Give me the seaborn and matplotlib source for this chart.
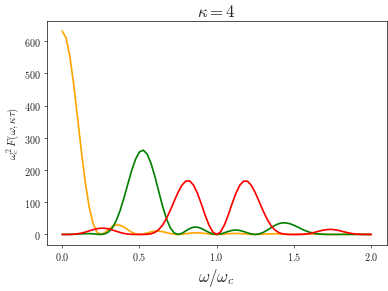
import numpy as np
import pandas as pd
import matplotlib
matplotlib.use("Agg")
import matplotlib.pyplot as plt
import seaborn as sns

# omega / omega_c grid, step 0.025
omega = np.linspace(0.0, 2.0, 81)

# values (omega_c^2 F)
free = [631.7, 611.1, 552.8, 465.4, 361.8, 256.0, 160.8, 85.5, 34.5, 7.5,
        0.0, 5.1, 15.4, 24.8, 29.5, 28.4, 22.6, 14.5, 6.8, 1.7,
        0.0, 1.4, 4.6, 7.9, 10.1, 10.2, 8.6, 5.7, 2.8, 0.7,
        0.0, 0.6, 2.2, 3.8, 5.0, 5.2, 4.5, 3.1, 1.5, 0.4,
        0.0, 0.4, 1.3, 2.3, 3.0, 3.2, 2.7, 1.9, 1.0, 0.3,
        0.0, 0.2, 0.8, 1.5, 2.0, 2.1, 1.8, 1.3, 0.7, 0.2,
        0.0, 0.2, 0.6, 1.1, 1.4, 1.5, 1.3, 0.9, 0.5, 0.1,
        0.0, 0.1, 0.4, 0.8, 1.1, 1.1, 1.0, 0.7, 0.4, 0.1,
        0.0]

cpmg = [0.0, 0.0, 0.1, 0.4, 1.0, 1.7, 2.4, 2.6, 1.9, 0.7,
        0.0, 1.5, 7.6, 20.7, 42.7, 74.0, 113.1, 156.3, 198.5, 233.6,
        256.0, 261.8, 249.7, 221.1, 180.3, 133.7, 87.8, 48.8, 20.6, 4.7,
        0.0, 3.4, 10.8, 18.2, 22.6, 22.7, 18.8, 12.6, 6.2, 1.6,
        0.0, 1.5, 5.1, 9.3, 12.6, 13.7, 12.3, 9.0, 4.8, 1.4,
        0.0, 1.5, 6.0, 12.7, 20.4, 27.6, 33.1, 36.0, 35.9, 33.2,
        28.4, 22.7, 16.7, 11.4, 7.1, 3.9, 1.9, 0.8, 0.2, 0.0,
        0.0, 0.0, 0.0, 0.0, 0.0, 0.0, 0.0, 0.0, 0.0, 0.0,
        0.0]

flip = [0.0, 0.0, 0.1, 0.7, 2.0, 4.2, 7.3, 11.1, 14.8, 17.8,
        19.3, 19.2, 17.2, 13.9, 10.0, 6.2, 3.1, 1.2, 0.3, 0.0,
        0.0, 0.0, 0.4, 2.0, 6.3, 15.0, 29.2, 49.5, 75.0, 103.2,
        130.6, 152.8, 165.7, 166.2, 153.3, 128.6, 95.8, 60.5, 29.2, 7.7,
        0.0, 7.7, 29.2, 60.5, 95.7, 128.4, 153.1, 165.7, 165.0, 151.9,
        129.6, 102.1, 74.0, 48.7, 28.6, 14.6, 6.1, 1.9, 0.4, 0.0,
        0.0, 0.0, 0.3, 1.1, 2.8, 5.4, 8.6, 11.8, 14.3, 15.5,
        15.3, 13.7, 11.1, 8.0, 5.2, 2.9, 1.3, 0.4, 0.1, 0.0,
        0.0]

df = pd.DataFrame({"w": omega, "free": free, "cpmg": cpmg, "flip": flip})

sns.set_style("ticks")
plt.rcParams["font.family"] = ["cmr10", "DejaVu Serif"]
plt.rcParams["mathtext.fontset"] = "cm"
plt.rcParams["axes.formatter.use_mathtext"] = True
plt.rcParams["axes.unicode_minus"] = False

fig, ax = plt.subplots(figsize=(6.4, 4.8), dpi=60.78)
sns.lineplot(data=df, x="w", y="free", color="orange", lw=2, ax=ax)
sns.lineplot(data=df, x="w", y="cpmg", color="green", lw=2, ax=ax)
sns.lineplot(data=df, x="w", y="flip", color="red", lw=2, ax=ax)

ax.set_xticks([0.0, 0.5, 1.0, 1.5, 2.0])
ax.set_yticks([0, 100, 200, 300, 400, 500, 600])
ax.tick_params(labelsize=12)
ax.set_title(r"$\kappa = 4$", fontsize=20)
ax.set_xlabel(r"$\omega/\omega_c$", fontsize=20)
ax.set_ylabel(r"$\omega_c^2\, F(\omega, \kappa\tau)$", fontsize=13)
for s in ax.spines.values():
    s.set_color("black")

fig.subplots_adjust(left=0.12, right=0.994, bottom=0.159, top=0.926)
fig.savefig("out.png", dpi=60.78)
